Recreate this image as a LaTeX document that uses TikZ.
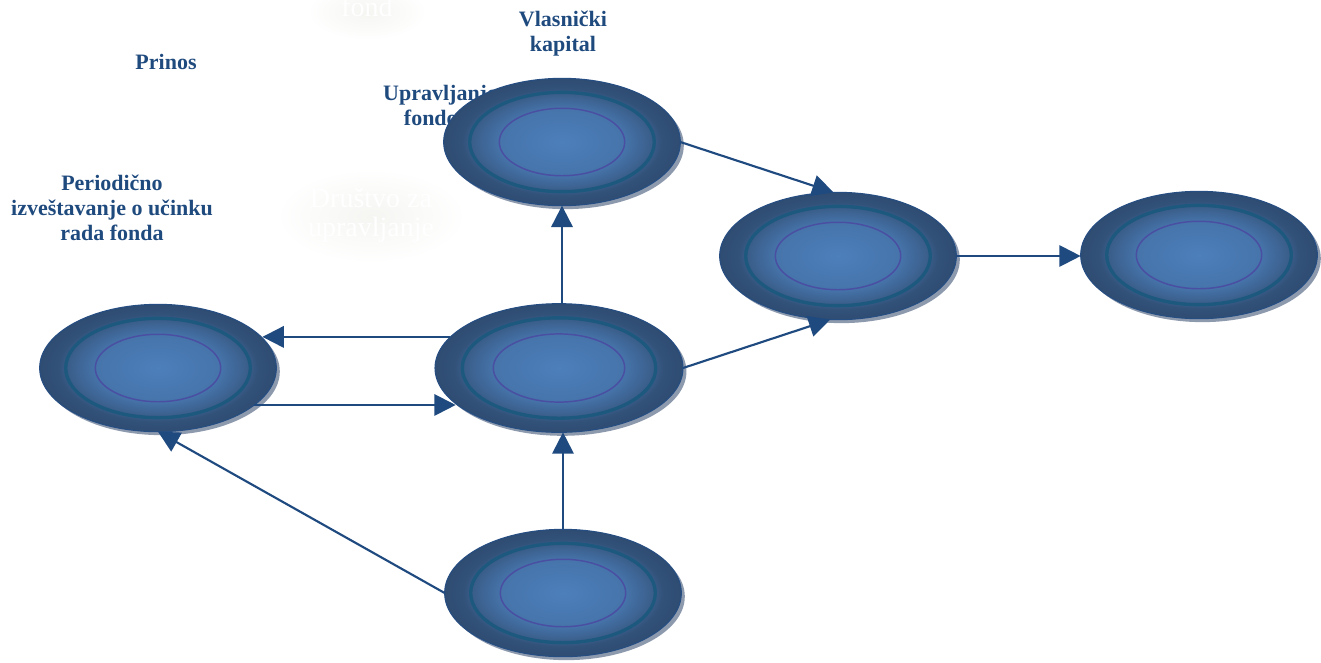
\documentclass[tikz,border=0pt]{standalone}
\usepackage{fontspec}
\setmainfont{Liberation Serif}
\usetikzlibrary{shapes.geometric,arrows.meta,shadows}
\definecolor{sc0}{HTML}{4D7FBB}
\definecolor{sc1}{HTML}{4674AB}
\definecolor{sc2}{HTML}{3A5E8A}
\definecolor{sc3}{HTML}{32527A}
\definecolor{sc4}{HTML}{2F4C72}
\definecolor{discedge}{HTML}{264E82}
\definecolor{ringc}{HTML}{1D587E}
\definecolor{innerc}{HTML}{4A4FA2}
\definecolor{shadowc}{HTML}{8D9AAE}
\definecolor{arrowc}{HTML}{1F4A80}
\definecolor{labelc}{HTML}{1F4A7E}
\definecolor{glowc}{HTML}{F5F5F2}
\pgfdeclareradialshading{discshade}{\pgfpoint{0bp}{0bp}}{color(0bp)=(sc0); color(13bp)=(sc1); color(19bp)=(sc2); color(21bp)=(sc3); color(25bp)=(sc4); color(50bp)=(sc4)}
\tikzset{
  disc/.style={ellipse, inner sep=0pt, outer sep=0pt,
    minimum width=177.5pt, minimum height=95.5pt,
    draw=discedge, line width=0.8pt, shading=discshade,
    drop shadow={shadow xshift=2.6pt, shadow yshift=-2.6pt, fill=shadowc, opacity=1},
    path picture={
      \draw[ringc, line width=2.5pt] (path picture bounding box.center) ellipse [x radius=0.39*\pgfkeysvalueof{/pgf/minimum width}, y radius=0.39*\pgfkeysvalueof{/pgf/minimum height}];
      \draw[innerc, line width=1.1pt] (path picture bounding box.center) ellipse [x radius=0.265*\pgfkeysvalueof{/pgf/minimum width}, y radius=0.265*\pgfkeysvalueof{/pgf/minimum height}];
    }},
  widedisc/.style={disc, minimum width=186pt, minimum height=96.5pt},
  arr/.style={draw=arrowc, line width=1.6pt, -{Triangle[length=16pt,width=16pt]}},
  lbl/.style={text=labelc, font=\bfseries\fontsize{16.5}{18.75}\selectfont, align=center, inner sep=0pt},
  ghost/.style={text=white, font=\fontsize{21}{21.5}\selectfont, align=center, inner sep=0pt}
}
\begin{document}
\begin{tikzpicture}[x=0.75pt,y=-0.75pt]
\useasboundingbox (0,0) rectangle (1321,662);
% faint glows behind white texts
\shade[inner color=glowc, outer color=white] (367,12) ellipse [x radius=60, y radius=28];
\shade[inner color=glowc, outer color=white] (371,216) ellipse [x radius=95, y radius=47];
\node[ghost, anchor=base] (fond) at (367,16) {fond};
\node[ghost] (drustvo) at (371,215) {Društvo za\\upravljanje};
% labels
\node[lbl] (vlasnicki) at (563,34) {Vlasnički\\kapital};
\node[lbl] (prinos) at (166,62) {Prinos};
\node[lbl] (upravljanje) at (440,105.5) {Upravljanje\\fondom};
\node[lbl] (periodicno) at (112,208) {Periodično\\izveštavanje o učinku\\rada fonda};
% discs
\node[disc] (top) at (562,142) {};
\node[widedisc] (mid) at (559,368) {};
\node[disc] (left) at (158,368) {};
\node[disc] (rm) at (838,256) {};
\node[disc] (fr) at (1199,255) {};
\node[disc] (bot) at (563,593) {};
% connectors
\draw[arr] (top.east) -- (rm.94);
\draw[arr] (mid.east) -- (rm.263);
\draw[arr] (rm.east) -- (rm.east -| fr.west);
\draw[arr] (top.south |- mid.north) -- (top.south);
\draw[arr] (mid.164) -- (left.16 |- mid.164);
\draw[arr] (left.-21) -- (left.-21 -| mid.199);
\draw[arr] (bot.north) -- (bot.north |- mid.south);
\draw[arr] (bot.west) -- (left.south);
\end{tikzpicture}
\end{document}
